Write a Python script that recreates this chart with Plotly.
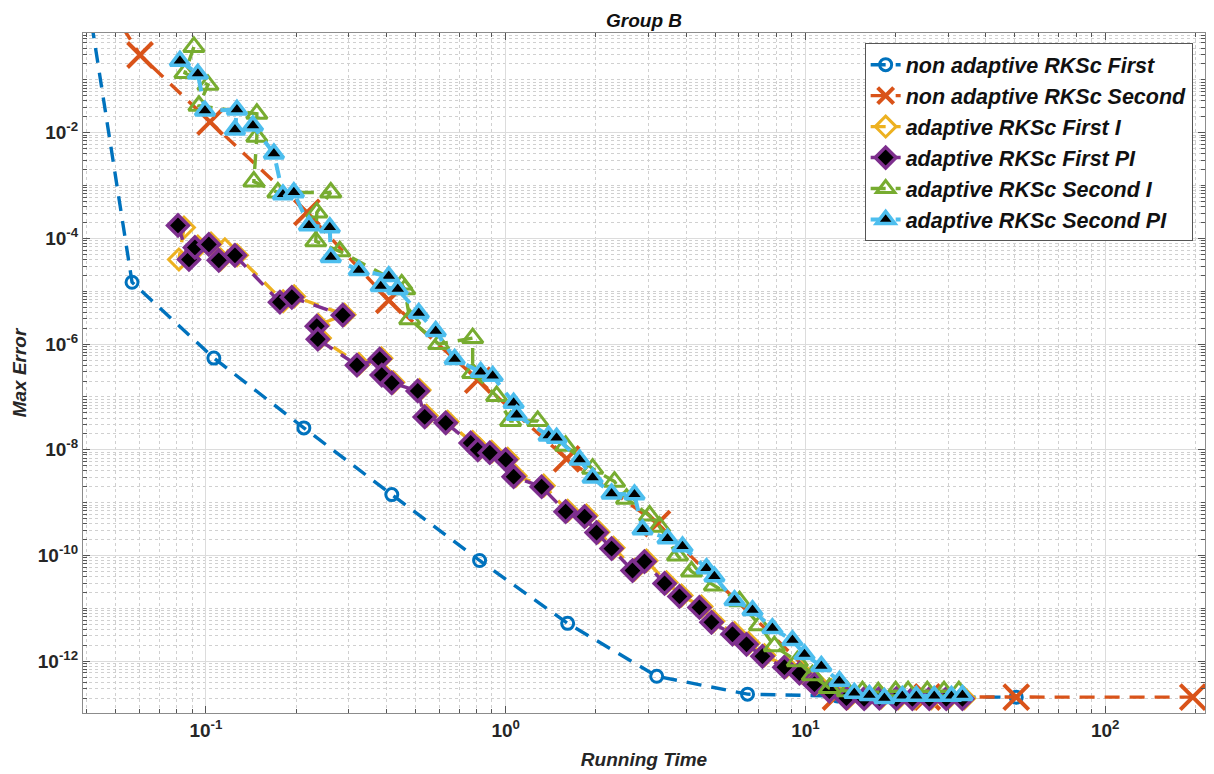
import plotly.graph_objects as go

# ---------------- data ----------------
t_na_first = [0.0283, 0.0567, 0.1063, 0.2122, 0.417, 0.8185, 1.61, 3.19, 6.41, 12.79, 25.5, 50.5]
e_na_first = [1.4e6, 1.48e-5, 5.44e-7, 2.6e-8, 1.42e-9, 8.05e-11, 5.2e-12, 5.2e-13, 2.38e-13, 2.19e-13, 2.1e-13, 2.09e-13]

t_na_second = [0.035, 0.0603, 0.1032, 0.2172, 0.4074, 0.807, 1.597, 3.21, 12.6, 25.5, 50.5, 196.0]
e_na_second = [40.0, 0.296, 0.0161, 3.1e-4, 6.76e-6, 2.09e-7, 6.76e-9, 4.0e-10, 2.1e-13, 2.1e-13, 2.09e-13, 2.09e-13]

t_ad_first_i = [0.0845, 0.0813, 0.094, 0.104, 0.112, 0.1157, 0.127, 0.181, 0.197, 0.290, 0.237, 0.240,
                0.324, 0.385, 0.39, 0.422, 0.516, 0.545, 0.64, 0.776, 0.818, 0.898, 1.016, 1.08, 1.34,
                1.61, 1.86, 2.04, 2.29, 2.69, 2.95, 3.44, 3.86, 4.5, 4.93, 5.8, 6.46, 7.3, 8.64, 9.7,
                10.9, 12.2, 13.9, 15.9, 17.9, 20.4, 23.1, 26.3, 29.9, 33.9]
e_ad_first_i = [1.61e-4, 4.0e-5, 7.0e-5, 8.0e-5, 4.0e-5, 6.2e-5, 4.8e-5, 6.5e-6, 8.0e-6, 3.6e-6, 2.3e-6, 1.3e-6,
                4.2e-7, 5.4e-7, 2.7e-7, 1.9e-7, 1.35e-7, 4.4e-8, 3.4e-8, 1.4e-8, 1.05e-8, 9.2e-9, 6.8e-9, 3.2e-9, 2.1e-9,
                7.0e-10, 5.7e-10, 2.8e-10, 1.4e-10, 5.4e-11, 8.0e-11, 3.1e-11, 1.75e-11, 1.08e-11, 5.7e-12, 3.4e-12, 2.2e-12, 1.3e-12, 8.0e-13, 6.2e-13,
                3.85e-13, 2.85e-13, 2.05e-13, 2.05e-13, 2.05e-13, 2.0e-13, 2.0e-13, 2.0e-13, 2.0e-13, 2.0e-13]

t_ad_first_pi = [0.0807, 0.0878, 0.0919, 0.1023, 0.1104, 0.125, 0.1766, 0.1935, 0.2862, 0.2344, 0.2362,
                 0.319, 0.38, 0.3861, 0.4169, 0.509, 0.537, 0.631, 0.7645, 0.807, 0.885, 1.0, 1.063, 1.318,
                 1.585, 1.834, 2.01, 2.256, 2.65, 2.904, 3.39, 3.80, 4.43, 4.86, 5.71, 6.36, 7.19, 8.51, 9.55,
                 10.72, 12.02, 13.7, 15.7, 17.65, 20.1, 22.74, 25.9, 29.5, 33.4]
e_ad_first_pi = [1.76e-4, 4.0e-5, 6.76e-5, 7.7e-5, 3.85e-5, 4.78e-5, 6.2e-6, 7.7e-6, 3.52e-6, 2.19e-6, 1.24e-6,
                 4.0e-7, 5.2e-7, 2.6e-7, 1.84e-7, 1.3e-7, 4.2e-8, 3.24e-8, 1.35e-8, 1.0e-8, 8.8e-9, 6.5e-9, 3.1e-9, 2.0e-9,
                 6.76e-10, 5.44e-10, 2.72e-10, 1.35e-10, 5.2e-11, 7.7e-11, 2.96e-11, 1.68e-11, 1.04e-11, 5.44e-12, 3.24e-12, 2.09e-12, 1.24e-12, 7.7e-13, 5.94e-13,
                 3.68e-13, 2.72e-13, 2.0e-13, 1.95e-13, 2.0e-13, 1.95e-13, 1.95e-13, 1.95e-13, 1.95e-13, 1.95e-13]

t_ad_second_i = [0.0912, 0.0851, 0.1016, 0.0948, 0.1479, 0.1479, 0.1445, 0.1738, 0.261, 0.2344, 0.2326, 0.2797,
                 0.45, 0.4607, 0.4786, 0.598, 0.776, 0.776, 0.933, 1.039, 1.279, 1.585, 1.95, 2.307, 2.531,
                 3.02, 3.26, 3.745, 4.17, 4.97, 6.03, 7.03, 7.88, 9.40, 10.55, 12.02, 13.8, 15.5, 17.5, 20.0,
                 22.0, 25.5, 29.0, 32.5]
e_ad_second_i = [0.42, 0.135, 0.0805, 0.0324, 0.0228, 0.0084, 0.00119, 7.4e-4, 7.4e-4, 3.1e-4, 8.8e-5, 5.7e-5,
                 1.35e-5, 1.09e-5, 2.96e-6, 1.0e-6, 1.3e-6, 2.84e-7, 1.04e-7, 3.52e-8, 3.52e-8, 1.19e-8, 4.4e-9, 2.5e-9, 1.19e-9,
                 5.7e-10, 3.52e-10, 1.0e-10, 4.99e-11, 2.72e-11, 1.36e-11, 4.78e-12, 1.92e-12, 1.0e-12, 5.44e-13, 3.1e-13, 2.7e-13, 2.7e-13, 2.6e-13, 2.7e-13,
                 2.7e-13, 2.7e-13, 2.7e-13, 2.7e-13]

t_ad_second_pi = [0.0819, 0.094, 0.0993, 0.1269, 0.125, 0.1435, 0.1686, 0.1807, 0.1965, 0.2207, 0.259, 0.261,
                  0.3236, 0.4074, 0.383, 0.4365, 0.5129, 0.5843, 0.676, 0.8255, 0.905, 1.063, 1.088, 1.391, 1.479,
                  1.765, 1.95, 2.256, 2.69, 2.862, 3.467, 3.89, 4.677, 4.97, 5.80, 6.66, 7.76, 9.05, 9.93, 11.3,
                  12.98, 14.56, 16.35, 18.34, 21.05, 23.44, 26.9, 30.7, 33.4]
e_ad_second_pi = [0.228, 0.13, 0.026, 0.0272, 0.0114, 0.0136, 0.00402, 6.76e-4, 7.4e-4, 1.76e-4, 1.61e-4, 4.4e-5,
                  2.49e-5, 1.92e-5, 1.24e-5, 1.09e-5, 3.85e-6, 1.76e-6, 5.2e-7, 2.96e-7, 2.49e-7, 7.7e-8, 4.57e-8, 1.84e-8, 1.68e-8,
                  6.5e-9, 2.96e-9, 1.48e-9, 1.42e-9, 3.09e-10, 2.09e-10, 1.48e-10, 5.7e-11, 4.0e-11, 1.42e-11, 9.2e-12, 4.2e-12, 2.49e-12, 1.35e-12, 8.05e-13,
                  4.2e-13, 2.49e-13, 2.28e-13, 2.0e-13, 2.19e-13, 2.19e-13, 2.19e-13, 2.19e-13, 2.28e-13]

names = ["non adaptive RKSc First", "non adaptive RKSc Second", "adaptive RKSc First I",
         "adaptive RKSc First PI", "adaptive RKSc Second I", "adaptive RKSc Second PI"]
x_ticks = [0.1, 1, 10, 100]
x_ticktext = ["10<sup>-1</sup>", "10<sup>0</sup>", "10<sup>1</sup>", "10<sup>2</sup>"]
y_ticks = [1e-12, 1e-10, 1e-8, 1e-6, 1e-4, 1e-2]
y_ticktext = ["10<sup>-12</sup>", "10<sup>-10</sup>", "10<sup>-8</sup>", "10<sup>-6</sup>", "10<sup>-4</sup>", "10<sup>-2</sup>"]

# ---------------- styling ----------------
FONT = "Liberation Sans"
blue, orange, yellow, purple, green, cyan = "#0072BD", "#D95319", "#EDB120", "#7E2F8E", "#77AC30", "#4DBEEE"
DASH = "15px,10px"
LW = 3.4

fig = go.Figure()
fig.add_trace(go.Scatter(x=t_na_first, y=e_na_first, name=names[0], mode="lines+markers",
                         line=dict(color=blue, width=LW, dash=DASH),
                         marker=dict(symbol="circle-open", size=12, color=blue, line=dict(width=3))))
fig.add_trace(go.Scatter(x=t_na_second, y=e_na_second, name=names[1], mode="lines+markers",
                         line=dict(color=orange, width=LW, dash=DASH),
                         marker=dict(symbol="x-thin-open", size=25, color=orange, line=dict(width=4, color=orange))))
fig.add_trace(go.Scatter(x=t_ad_first_i, y=e_ad_first_i, name=names[2], mode="lines+markers",
                         line=dict(color=yellow, width=LW, dash=DASH),
                         marker=dict(symbol="diamond-open", size=16, color=yellow, line=dict(width=3))))
fig.add_trace(go.Scatter(x=t_ad_first_pi, y=e_ad_first_pi, name=names[3], mode="lines+markers",
                         line=dict(color=purple, width=LW, dash=DASH),
                         marker=dict(symbol="diamond", size=16, color="black", line=dict(width=3.5, color=purple))))
fig.add_trace(go.Scatter(x=t_ad_second_i, y=e_ad_second_i, name=names[4], mode="lines+markers",
                         line=dict(color=green, width=LW, dash=DASH),
                         marker=dict(symbol="triangle-up-open", size=18, color=green, line=dict(width=3))))
fig.add_trace(go.Scatter(x=t_ad_second_pi, y=e_ad_second_pi, name=names[5], mode="lines+markers",
                         line=dict(color=cyan, width=LW + 0.6, dash=DASH),
                         marker=dict(symbol="triangle-up", size=17, color="black", line=dict(width=3.5, color=cyan))))

def minor_vals(lo, hi):
    vals = []
    for k in range(lo, hi + 1):
        for m in range(1, 10):
            vals.append(m * 10.0 ** k)
    return vals

x_minor = [v for v in minor_vals(-2, 2) if v not in x_ticks]
y_minor = [v for v in minor_vals(-14, 0) if not any(abs(v - yt) / yt < 1e-9 for yt in y_ticks)]

axis_common = dict(type="log", showline=True, linecolor="#8c8c8c", linewidth=1.2, mirror="allticks",
                   ticks="inside", ticklen=7, tickcolor="#555555", tickwidth=1,
                   showgrid=True, gridcolor="#dcdcdc", gridwidth=1, zeroline=False,
                   tickfont=dict(family=FONT, size=19, color="#262626", weight="bold"))

fig.update_xaxes(**axis_common, range=[-1.41, 2.333], tickmode="array", tickvals=x_ticks, ticktext=x_ticktext,
                 minor=dict(tickmode="array", tickvals=x_minor, ticks="inside", ticklen=4, tickcolor="#555555",
                            showgrid=True, gridcolor="#d0d0d0", griddash="dot", gridwidth=1),
                 title=dict(text="<i>Running Time</i>", standoff=12,
                            font=dict(family=FONT, size=19, color="#262626", weight="bold")))
fig.update_yaxes(**axis_common, range=[-12.98, -0.113], tickmode="array", tickvals=y_ticks, ticktext=y_ticktext,
                 minor=dict(tickmode="array", tickvals=y_minor, ticks="inside", ticklen=4, tickcolor="#555555",
                            showgrid=True, gridcolor="#d0d0d0", griddash="dot", gridwidth=1),
                 title=dict(text="<i>Max Error</i>", standoff=6,
                            font=dict(family=FONT, size=19, color="#262626", weight="bold")))

fig.update_layout(
    width=1214, height=774,
    margin=dict(l=83, r=8, t=33, b=59),
    paper_bgcolor="white", plot_bgcolor="white",
    title=dict(text="<i>Group B</i>", x=0.5, xref="paper", xanchor="center", y=1 - 20 / 774, yanchor="middle",
               font=dict(family=FONT, size=19, color="#111111", weight="bold")),
    legend=dict(x=0.989, y=0.985, xanchor="right", yanchor="top", bgcolor="white",
                bordercolor="#555555", borderwidth=1, tracegroupgap=0,
                font=dict(family=FONT, size=21.5, color="#111111", weight="bold", style="italic")),
    showlegend=True,
)

fig.write_html("out.html")
